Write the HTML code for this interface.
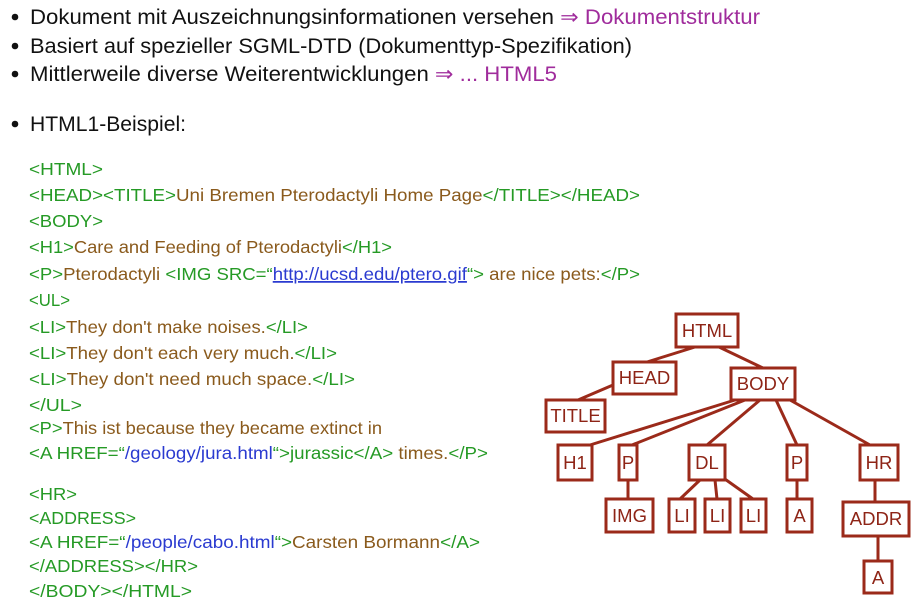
<!DOCTYPE html>
<html><head><meta charset="utf-8"><style>
html,body{margin:0;padding:0;background:#fff;width:917px;height:600px;overflow:hidden}
svg{display:block;font-family:"Liberation Sans",sans-serif}
.g{fill:#259a25}.b{fill:#8a5a1c}.u{fill:#2a3ad0}.p{fill:#a02c9c}.k{fill:#111}
.n rect{fill:#fff;stroke:#9b2a1a;stroke-width:3}
.n text{fill:#8e2416;font-size:18.5px;text-anchor:middle}
.l line{stroke:#9b2a1a;stroke-width:3}
</style></head><body>
<svg width="917" height="600" viewBox="0 0 917 600">
<g font-size="21" class="k">
<circle cx="15" cy="17" r="3.3"/><circle cx="15" cy="46" r="3.3"/><circle cx="15" cy="74" r="3.3"/><circle cx="15" cy="124" r="3.3"/>
<text x="30" y="24" textLength="730" lengthAdjust="spacingAndGlyphs">Dokument mit Auszeichnungsinformationen versehen <tspan class="p">⇒ Dokumentstruktur</tspan></text>
<text x="30" y="53" textLength="602" lengthAdjust="spacingAndGlyphs">Basiert auf spezieller SGML-DTD (Dokumenttyp-Spezifikation)</text>
<text x="30" y="81" textLength="527" lengthAdjust="spacingAndGlyphs">Mittlerweile diverse Weiterentwicklungen <tspan class="p">⇒ ... HTML5</tspan></text>
<text x="30" y="131" textLength="156" lengthAdjust="spacingAndGlyphs">HTML1-Beispiel:</text>
</g>
<g font-size="17.5" class="g">
<text x="29" y="175" textLength="74" lengthAdjust="spacingAndGlyphs">&lt;HTML&gt;</text>
<text x="29" y="201" textLength="611" lengthAdjust="spacingAndGlyphs">&lt;HEAD&gt;&lt;TITLE&gt;<tspan class="b">Uni Bremen Pterodactyli Home Page</tspan>&lt;/TITLE&gt;&lt;/HEAD&gt;</text>
<text x="29" y="227" textLength="74" lengthAdjust="spacingAndGlyphs">&lt;BODY&gt;</text>
<text x="29" y="253" textLength="363" lengthAdjust="spacingAndGlyphs">&lt;H1&gt;<tspan class="b">Care and Feeding of Pterodactyli</tspan>&lt;/H1&gt;</text>
<text x="29" y="280" textLength="611" lengthAdjust="spacingAndGlyphs">&lt;P&gt;<tspan class="b">Pterodactyli </tspan>&lt;IMG SRC=“<tspan class="u" text-decoration="underline">http://ucsd.edu/ptero.gif</tspan>“&gt;<tspan class="b"> are nice pets:</tspan>&lt;/P&gt;</text>
<text x="29" y="306" textLength="41" lengthAdjust="spacingAndGlyphs">&lt;UL&gt;</text>
<text x="29" y="333" textLength="279" lengthAdjust="spacingAndGlyphs">&lt;LI&gt;<tspan class="b">They don't make noises.</tspan>&lt;/LI&gt;</text>
<text x="29" y="359" textLength="308" lengthAdjust="spacingAndGlyphs">&lt;LI&gt;<tspan class="b">They don't each very much.</tspan>&lt;/LI&gt;</text>
<text x="29" y="385" textLength="326" lengthAdjust="spacingAndGlyphs">&lt;LI&gt;<tspan class="b">They don't need much space.</tspan>&lt;/LI&gt;</text>
<text x="29" y="411" textLength="53" lengthAdjust="spacingAndGlyphs">&lt;/UL&gt;</text>
<text x="29" y="434" textLength="353" lengthAdjust="spacingAndGlyphs">&lt;P&gt;<tspan class="b">This ist because they became extinct in</tspan></text>
<text x="29" y="459" textLength="459" lengthAdjust="spacingAndGlyphs">&lt;A HREF=“<tspan class="u">/geology/jura.html</tspan>“&gt;jurassic&lt;/A&gt;<tspan class="b"> times.</tspan>&lt;/P&gt;</text>
<text x="29" y="500" textLength="48" lengthAdjust="spacingAndGlyphs">&lt;HR&gt;</text>
<text x="29" y="524" textLength="107" lengthAdjust="spacingAndGlyphs">&lt;ADDRESS&gt;</text>
<text x="29" y="548" textLength="451" lengthAdjust="spacingAndGlyphs">&lt;A HREF=“<tspan class="u">/people/cabo.html</tspan>“&gt;<tspan class="b">Carsten Bormann</tspan>&lt;/A&gt;</text>
<text x="29" y="572" textLength="169" lengthAdjust="spacingAndGlyphs">&lt;/ADDRESS&gt;&lt;/HR&gt;</text>
<text x="29" y="597" textLength="163" lengthAdjust="spacingAndGlyphs">&lt;/BODY&gt;&lt;/HTML&gt;</text>
</g>
<g class="l">
<line x1="695" y1="347" x2="647" y2="362"/>
<line x1="719" y1="347" x2="763" y2="368"/>
<line x1="613" y1="385" x2="578" y2="400"/>
<line x1="735" y1="400" x2="590" y2="445"/>
<line x1="745" y1="400" x2="632" y2="445"/>
<line x1="760" y1="400" x2="707" y2="445"/>
<line x1="776" y1="400" x2="797" y2="445"/>
<line x1="790" y1="400" x2="870" y2="445"/>
<line x1="628" y1="480" x2="628" y2="499"/>
<line x1="700" y1="480" x2="680" y2="499"/>
<line x1="715" y1="480" x2="717" y2="499"/>
<line x1="722" y1="477" x2="753" y2="499"/>
<line x1="797" y1="480" x2="797" y2="499"/>
<line x1="875" y1="480" x2="875" y2="502"/>
<line x1="878" y1="536" x2="878" y2="561"/>
</g>
<g class="n">
<rect x="676" y="314" width="62" height="33"/><text x="707" y="337">HTML</text>
<rect x="613" y="362" width="63" height="32"/><text x="644.5" y="384">HEAD</text>
<rect x="731" y="368" width="64" height="32"/><text x="763" y="390">BODY</text>
<rect x="546" y="400" width="59" height="32"/><text x="575.5" y="422">TITLE</text>
<rect x="558" y="445" width="34" height="35"/><text x="575" y="469">H1</text>
<rect x="619" y="445" width="18" height="35"/><text x="628" y="469">P</text>
<rect x="689" y="445" width="36" height="35"/><text x="707" y="469">DL</text>
<rect x="787" y="445" width="20" height="35"/><text x="797" y="469">P</text>
<rect x="860" y="445" width="38" height="35"/><text x="879" y="469">HR</text>
<rect x="606" y="499" width="47" height="33"/><text x="629.5" y="522">IMG</text>
<rect x="669" y="499" width="26" height="33"/><text x="682" y="522">LI</text>
<rect x="705" y="499" width="25" height="33"/><text x="717.5" y="522">LI</text>
<rect x="741" y="499" width="25" height="33"/><text x="753.5" y="522">LI</text>
<rect x="787" y="499" width="25" height="33"/><text x="799.5" y="522">A</text>
<rect x="843" y="502" width="66" height="34"/><text x="876" y="525">ADDR</text>
<rect x="864" y="561" width="28" height="32"/><text x="878" y="584">A</text>
</g>
</svg>
</body></html>
